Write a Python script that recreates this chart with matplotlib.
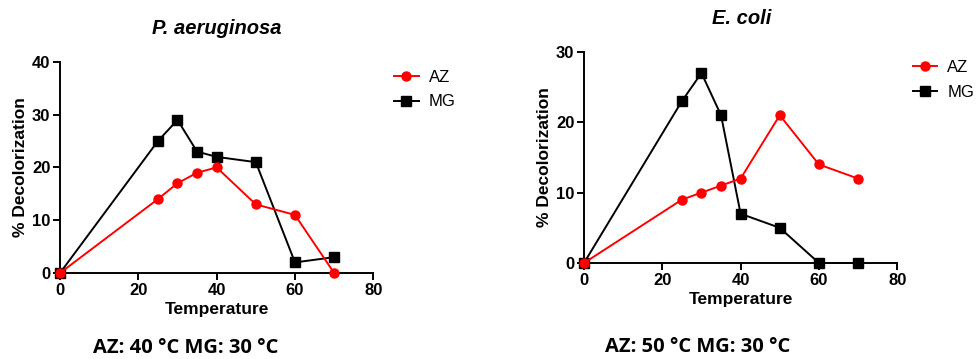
import matplotlib
matplotlib.use("Agg")
import matplotlib.pyplot as plt

plt.rcParams["font.family"] = ["Liberation Sans", "DejaVu Sans"]

# ---- data ---------------------------------------------------------------
temps = [0, 25, 30, 35, 40, 50, 60, 70]

pa_az = [0, 14, 17, 19, 20, 13, 11, 0]
pa_mg = [0, 25, 29, 23, 22, 21, 2, 3]

ec_az = [0, 9, 10, 11, 12, 21, 14, 12]
ec_mg = [0, 23, 27, 21, 7, 5, 0, 0]

panels = [
    ("P. aeruginosa", pa_az, pa_mg, 40, [0, 10, 20, 30, 40], "AZ: 40 °C MG: 30 °C"),
    ("E. coli", ec_az, ec_mg, 30, [0, 10, 20, 30], "AZ: 50 °C MG: 30 °C"),
]
xticks = [0, 20, 40, 60, 80]

# axes rects in figure coords
rects = [
    (0.0613, 0.2396, 0.320, 0.588),
    (0.5965, 0.2674, 0.320, 0.588),
]
title_pos = [(217, 28), (742, 18)]
legend_anchor = [(0.396, 0.824), (0.926, 0.851)]
note_pos = [(186, 348), (698, 347)]

W, H = 979, 359
fig = plt.figure(figsize=(W / 100, H / 100), dpi=100)

for i, (title, az, mg, ymax, yticks, note) in enumerate(panels):
    ax = fig.add_axes(rects[i])
    ax.plot(temps, az, color="#ff0000", marker="o", markersize=6.5, lw=1.4,
            label="AZ", clip_on=False, zorder=4)
    ax.plot(temps, mg, color="black", marker="s", markersize=6.5, lw=1.4,
            label="MG", clip_on=False, zorder=3)
    ax.set_xlim(0, 80)
    ax.set_ylim(0, ymax)
    ax.set_xticks(xticks)
    ax.set_yticks(yticks)
    for s in ("top", "right"):
        ax.spines[s].set_visible(False)
    for s in ("left", "bottom"):
        ax.spines[s].set_linewidth(1.4)
    ax.tick_params(direction="out", length=5, width=1.4, labelsize=12, pad=2)
    for lab in ax.get_xticklabels() + ax.get_yticklabels():
        lab.set_fontweight("bold")
    ax.set_xlabel("Temperature", fontsize=12.5, fontweight="bold", labelpad=3)
    ax.set_ylabel("% Decolorization", fontsize=12.5, fontweight="bold", labelpad=3)

    tx, ty = title_pos[i]
    fig.text(tx / W, 1 - ty / H, title, ha="center", va="center",
             fontsize=14.5, fontweight="bold", fontstyle="italic")

    nx, ny = note_pos[i]
    fig.text(nx / W, 1 - ny / H, note, ha="center", va="center",
             fontsize=14.5, fontweight="bold", family=["Open Sans", "DejaVu Sans"])

    fig.legend(*ax.get_legend_handles_labels(), loc="upper left",
               bbox_to_anchor=legend_anchor[i], frameon=False, fontsize=12,
               handlelength=1.45, handletextpad=0.6, labelspacing=0.57,
               borderaxespad=0)

fig.savefig("out.png", dpi=100)
